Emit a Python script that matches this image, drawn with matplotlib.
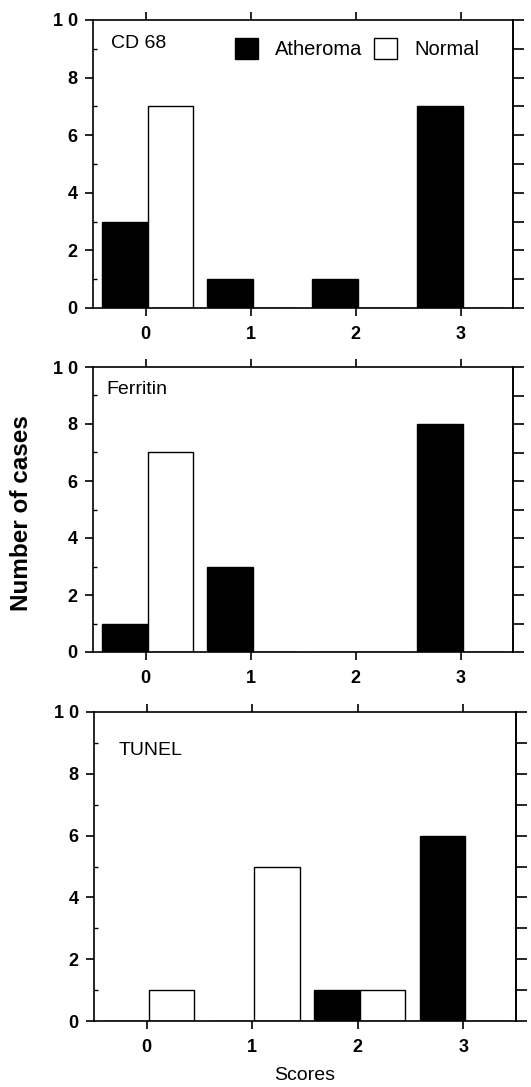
import numpy as np
import matplotlib
matplotlib.use('Agg')
import matplotlib.pyplot as plt
from matplotlib.patches import Patch

plt.rcParams['font.family'] = ['Liberation Sans', 'DejaVu Sans']

scores = [0, 1, 2, 3]
panel_names = ['CD 68', 'Ferritin', 'TUNEL']

# 점수별 사례 수
cd68_atheroma = [3, 1, 1, 7]
cd68_normal = [7, 0, 0, 0]
ferritin_atheroma = [1, 3, 0, 8]
ferritin_normal = [7, 0, 0, 0]
tunel_atheroma = [0, 0, 1, 6]
tunel_normal = [1, 5, 1, 0]

atheroma = [cd68_atheroma, ferritin_atheroma, tunel_atheroma]
normal = [cd68_normal, ferritin_normal, tunel_normal]

W, H = 531, 1087
fig = plt.figure(figsize=(W / 100, H / 100), dpi=100)

# 패널 위치 (픽셀: left, right, top, bottom)
boxes = [(93, 513, 20, 308), (93, 513, 367, 652), (94, 516, 712, 1021)]
label_pos = [(-0.07, 9.2), (-0.08, 9.2), (0.04, 8.77)]

x = np.array(scores)
bw = 0.43
for i, (l, r, t, b) in enumerate(boxes):
    ax = fig.add_axes([l / W, 1 - b / H, (r - l) / W, (b - t) / H])
    ax.bar(x - 0.41, atheroma[i], width=bw, align='edge', color='black',
           edgecolor='black', linewidth=1.0)
    ax.bar(x + 0.02, normal[i], width=bw, align='edge', color='white',
           edgecolor='black', linewidth=1.0)
    ax.set_xlim(-0.5, 3.5)
    ax.set_ylim(0, 10)
    ax.set_xticks(scores)
    ax.set_yticks(np.arange(0, 11, 2))
    ax.set_yticks(np.arange(1, 10, 2), minor=True)
    ax.set_yticklabels(['0', '2', '4', '6', '8', '1 0'])
    for s in ax.spines.values():
        s.set_linewidth(1.2)
    ax.tick_params(axis='x', which='major', top=True, direction='out',
                   length=6, width=1.2, labelsize=13, pad=7)
    ax.tick_params(axis='y', which='major', direction='out', length=6,
                   width=1.2, labelsize=13, pad=5)
    ax.tick_params(axis='y', which='minor', direction='in', length=3,
                   width=1.0)
    for lab in ax.get_xticklabels() + ax.get_yticklabels():
        lab.set_fontweight('bold')
    sec = ax.secondary_yaxis('right')
    sec.set_yticks(np.arange(0, 11, 1))
    sec.set_yticklabels([])
    sec.tick_params(direction='out', length=8, width=1.2)
    sec.spines['right'].set_linewidth(1.2)
    ax.text(label_pos[i][0], label_pos[i][1], panel_names[i], fontsize=14,
            ha='center', va='center')
    if i == 0:
        handles = [Patch(facecolor='black', edgecolor='black', label='Atheroma'),
                   Patch(facecolor='white', edgecolor='black', label='Normal')]
        ax.legend(handles=handles, loc='center left',
                  bbox_to_anchor=(0.314, 0.9), ncol=2, frameon=False,
                  fontsize=14.5, handlelength=1.14, handleheight=1.2,
                  handletextpad=0.85, columnspacing=0.6, borderpad=0)
    if i == 2:
        ax.set_xlabel('Scores', fontsize=14, labelpad=8)

fig.text(22 / W, 1 - 513 / H, 'Number of cases', rotation=90, fontsize=17.5,
         fontweight='bold', ha='center', va='center')

fig.savefig('out.png', dpi=100)
